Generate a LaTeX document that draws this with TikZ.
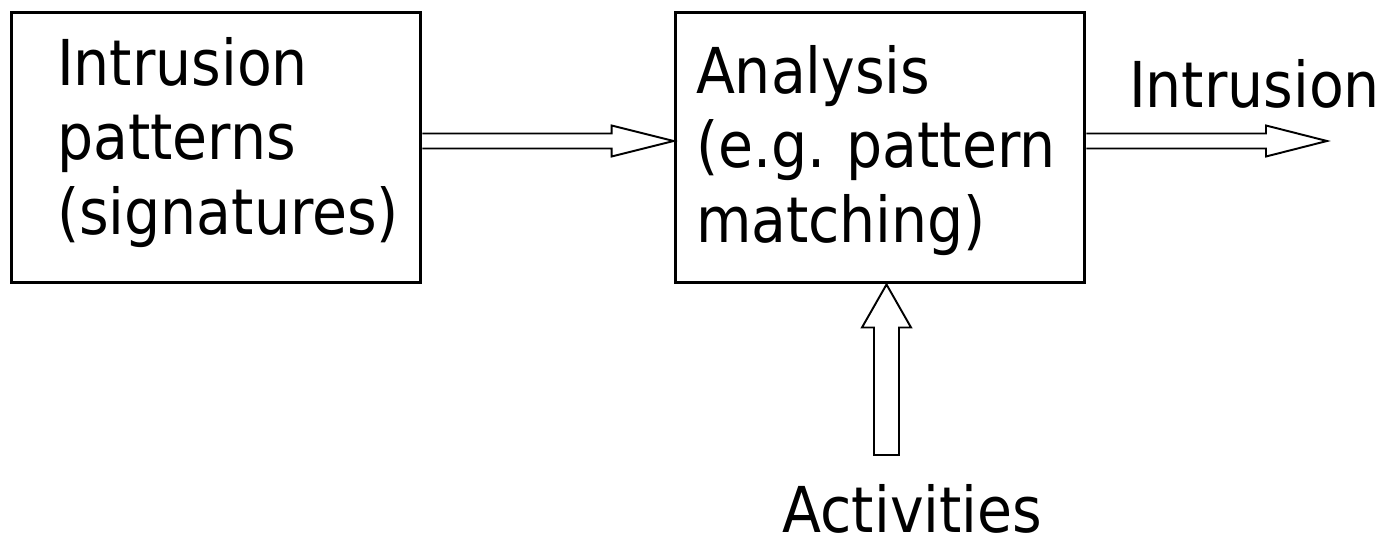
\documentclass[tikz,border=0pt]{standalone}
\usepackage{fontspec}
\setmainfont{DejaVu Sans Condensed}
\usetikzlibrary{calc}
\frenchspacing
\hyphenpenalty=10000

\tikzset{
  block/.style={draw, line width=1.7pt, minimum width=8.2cm, minimum height=5.42cm, align=left, inner ysep=0pt, text height=0.92cm},
  label/.style={inner sep=0pt, anchor=base},
  hollow/.style={line width=1.1pt, line join=miter}
}

\begin{document}
\begin{tikzpicture}[x=0.02cm, y=-0.02cm, font=\fontsize{36}{42.5}\selectfont]
  \useasboundingbox (0,0) rectangle (1388,541);

  %%boxes
  \node[block, inner xsep=0.92cm, text width=6.36cm, text depth=3.42cm] (sig) at (216,147.5) {Intrusion\\patterns\\(signatures)};
  \node[block, inner xsep=0.42cm, text width=7.36cm, text depth=3.10cm] (ana) at (880,147.5) {Analysis\\(e.g. pattern\\matching)};

  %%labels
  \node[label] (out) at (1254.5,107) {Intrusion};
  \node[label] (act) at (912.5,532) {Activities};

  %%ends
  \coordinate (tip) at (1327,141);
  \coordinate (src) at (886.5,455);

  %%arrows
  \draw[hollow] ($(sig.east)+(0,-14)$) -- ($(ana.west)+(-62,-14)$) -- ($(ana.west)+(-62,-22)$)
    -- ($(ana.west)+(0,-6.5)$) -- ($(ana.west)+(-62,9)$) -- ($(ana.west)+(-62,1)$) -- ($(sig.east)+(0,1)$);
  \draw[hollow] ($(ana.east)+(0,-14)$) -- ($(tip)+(-61,-7.5)$) -- ($(tip)+(-61,-15.5)$)
    -- (tip) -- ($(tip)+(-61,15.5)$) -- ($(tip)+(-61,7.5)$) -- ($(ana.east)+(0,1)$);
  \draw[hollow] (src) -- ++(-12.5,0) |- ($(ana.south)+(-18,43)$) -- ($(ana.south)+(6.5,0)$)
    -- ($(ana.south)+(31,43)$) -| ($(src)+(12.5,0)$) -- cycle;
\end{tikzpicture}
\end{document}
